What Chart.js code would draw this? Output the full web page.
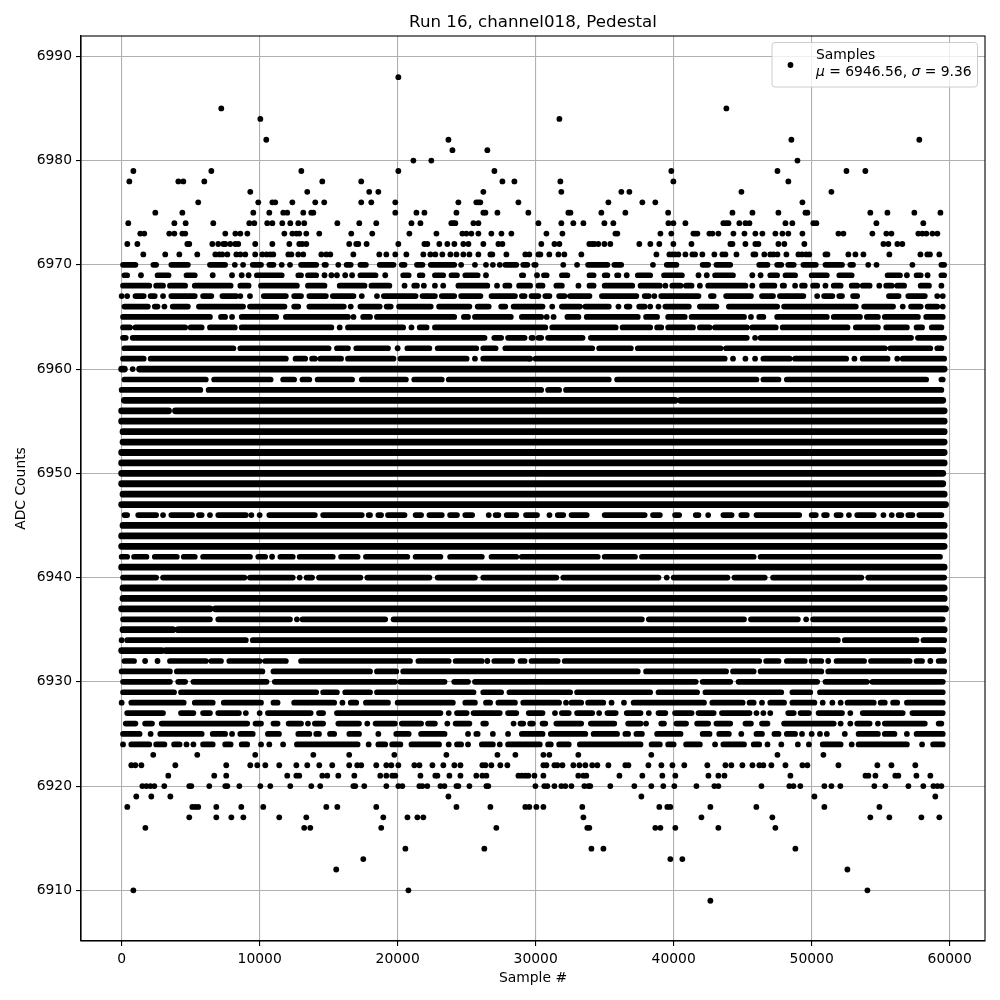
<!DOCTYPE html>
<html>
<head>
<meta charset="utf-8">
<title>Run 16, channel018, Pedestal</title>
<script src="https://cdn.jsdelivr.net/npm/chart.js@4"></script>
<style>
    html, body { margin: 0; padding: 0; background: #fff; }
    canvas { display: block; }
</style>
</head>
<body>
<canvas id="pedestalChart" width="1000" height="1000"></canvas>
<script>
// Sample numbers are in thousands
const chartTitle = 'Run 16, channel018, Pedestal';
const xTitle = 'Sample #';
const yTitle = 'ADC Counts';
const seriesName = 'Samples';
const meanValue = '6946.56';
const sigmaValue = '9.36';
const xTicks = [0, 10000, 20000, 30000, 40000, 50000, 60000];
const yTicks = [6910, 6920, 6930, 6940, 6950, 6960, 6970, 6980, 6990];

// Isolated samples above and below the main band
const tailLevels = [6988, 6985, 6984, 6982, 6981, 6980, 6979, 6978, 6977, 6976, 6975, 6974, 6973, 6972, 6971,
    6923, 6922, 6921, 6920, 6919, 6918, 6917, 6916, 6914, 6913, 6912, 6910, 6909];
const tailSamples = [
    [20.05],
    [7.22, 43.82],
    [10.05, 31.72],
    [10.48, 23.68, 48.53, 57.8],
    [23.97, 26.5],
    [21.14, 22.44, 48.97],
    [0.85, 6.5, 13.02, 20.05, 27.01, 39.83, 47.52, 52.52, 53.89],
    [0.56, 4.11, 4.47, 5.99, 14.54, 17.36, 27.59, 28.46, 31.79, 39.98, 48.31],
    [9.32, 13.45, 17.94, 18.6, 26.21, 31.86, 36.21, 36.79, 44.91, 51.43],
    [5.55, 9.9, 10.92, 11.13, 12.37, 14.03, 14.68, 17.36, 18.09, 19.83, 24.4, 25.7, 25.85, 25.99, 28.75, 35.27, 37.73, 38.67, 49.33],
    [2.44, 4.4, 9.54, 10.7, 11.71, 12.0, 13.16, 13.74, 13.89, 19.83, 21.36, 21.94, 24.26, 26.21, 26.36, 27.23, 29.47, 32.37, 32.52, 34.76, 36.5, 39.6, 44.26, 45.71, 47.59, 49.55, 49.69, 54.25, 55.49, 57.44, 59.33],
    [0.48, 3.82, 4.64, 6.64, 9.25, 9.61, 10.55, 10.92, 11.64, 12.22, 12.8, 13.23, 15.63, 17.22, 18.45, 21.0, 21.65, 23.89, 24.04, 24.18, 25.49, 25.85, 30.2, 31.86, 32.73, 33.46, 34.98, 35.63, 39.62, 39.98, 40.85, 43.6, 43.8, 43.97, 44.76, 45.2, 45.49, 48.1, 48.6, 50.12, 50.34, 54.69, 58.09],
    [1.35, 1.64, 3.45, 3.82, 4.4, 4.61, 7.51, 8.24, 8.6, 9.11, 11.79, 12.37, 12.66, 12.87, 13.38, 14.32, 16.64, 18.16, 20.85, 22.81, 24.69, 24.98, 25.34, 25.85, 26.79, 27.52, 28.24, 30.78, 31.94, 35.78, 35.92, 39.04, 39.83, 41.43, 41.57, 41.72, 42.59, 42.81, 43.24, 44.33, 45.13, 45.92, 46.43, 47.37, 47.88, 48.31, 49.33, 51.94, 52.3, 54.4, 55.41, 55.78, 57.73, 58.02, 58.31, 58.75, 59.11],
    [0.41, 1.14, 4.76, 4.9, 6.57, 7.0, 7.37, 7.51, 7.87, 8.24, 8.45, 9.68, 10.92, 12.15, 12.87, 13.09, 13.38, 16.49, 17.0, 17.15, 17.75, 20.05, 21.94, 22.15, 23.02, 23.6, 24.11, 24.76, 25.13, 26.21, 27.3, 27.59, 30.41, 31.36, 31.72, 33.89, 34.1, 34.25, 34.54, 34.98, 35.41, 37.51, 38.31, 38.96, 39.98, 41.29, 44.11, 44.26, 45.2, 45.92, 46.14, 47.59, 48.02, 49.47, 55.2, 55.56, 56.21, 56.57],
    [1.57, 3.16, 4.18, 5.48, 6.79, 7.08, 7.29, 7.66, 8.31, 8.6, 8.96, 9.68, 10.19, 10.5, 10.77, 10.99, 12.08, 12.3, 12.8, 13.16, 14.47, 14.83, 15.12, 16.79, 18.67, 19.18, 19.83, 20.63, 21.86, 22.37, 22.73, 23.24, 23.82, 24.26, 24.76, 25.2, 25.85, 26.72, 26.86, 27.88, 29.25, 29.54, 30.2, 30.34, 30.99, 31.65, 32.08, 33.31, 38.75, 39.69, 39.9, 40.1, 40.34, 40.85, 41.36, 41.55, 42.08, 42.95, 43.53, 43.75, 44.55, 45.78, 45.92, 46.57, 47.0, 47.23, 47.52, 48.17, 49.04, 49.3, 49.6, 49.83, 51.0, 51.14, 52.66, 53.17, 53.75, 55.63, 57.88, 58.38, 58.57, 59.25],
    [2.29, 5.48, 9.68, 13.89, 16.49, 19.76, 23.53, 27.23, 28.53, 30.56, 30.99, 33.09, 38.38, 47.52, 50.85],
    [0.7, 0.99, 1.43, 3.89, 7.58, 9.32, 9.83, 10.41, 11.42, 12.66, 13.45, 14.32, 15.26, 16.49, 17.07, 17.36, 18.45, 19.18, 19.54, 20.05, 21.21, 21.58, 22.52, 23.31, 24.11, 24.55, 26.14, 26.36, 26.79, 27.44, 27.95, 30.56, 30.78, 31.36, 31.57, 31.94, 32.73, 33.17, 33.6, 34.1, 34.47, 35.27, 36.5, 36.72, 38.17, 39.11, 39.91, 40.77, 42.44, 43.75, 44.18, 44.98, 45.71, 46.21, 46.5, 47.08, 48.1, 49.33, 49.69, 51.94, 54.76, 55.78, 57.51],
    [3.38, 6.71, 7.58, 12.0, 12.66, 12.87, 14.54, 14.9, 15.7, 16.86, 18.74, 19.18, 19.61, 19.83, 21.65, 22.73, 22.88, 23.75, 24.55, 25.7, 26.14, 26.43, 28.75, 29.0, 29.25, 29.47, 29.91, 30.56, 33.09, 33.46, 33.67, 36.07, 37.73, 39.18, 40.12, 42.52, 43.24, 43.68, 48.46, 53.9, 54.11, 54.62, 56.06, 56.28, 57.59, 58.6],
    [1.5, 1.79, 2.08, 2.37, 3.09, 4.9, 5.05, 6.35, 7.51, 7.66, 8.53, 10.05, 10.77, 12.22, 13.74, 14.39, 16.79, 16.93, 17.58, 19.18, 20.05, 20.34, 21.57, 21.79, 22.15, 23.1, 23.39, 24.26, 24.4, 25.2, 26.43, 26.57, 29.98, 30.63, 30.85, 31.36, 31.86, 32.15, 32.59, 33.53, 33.82, 33.96, 35.41, 37.15, 38.38, 39.25, 40.05, 41.65, 42.95, 43.24, 46.36, 48.38, 48.68, 49.18, 50.92, 51.43, 52.08, 54.54, 55.34, 57.01, 58.09, 58.82, 59.11, 59.4],
    [1.06, 2.15, 3.53, 23.68, 37.66, 50.2, 58.96],
    [0.41, 5.12, 5.34, 5.55, 6.86, 8.67, 10.26, 14.83, 15.63, 18.45, 24.26, 26.72, 29.25, 29.54, 30.05, 30.56, 33.38, 38.96, 39.54, 39.76, 42.66, 45.99, 50.92, 54.91],
    [4.9, 6.86, 7.95, 8.82, 11.42, 13.38, 18.96, 20.71, 21.43, 21.86, 33.46, 42.01, 47.15, 54.25, 55.63, 57.95, 59.25],
    [1.72, 13.23, 13.67, 18.81, 27.15, 33.74, 33.89, 38.67, 39.04, 40.12, 43.24, 47.37],
    [20.56, 26.28, 34.04, 34.91, 48.82],
    [17.51, 39.76, 40.63],
    [15.55, 52.59],
    [0.85, 20.78, 54.04],
    [42.66]
];

// Main band: a pair is an unbroken stretch of samples, a single number is one dot
const coreLevels = [6970, 6969, 6968, 6967, 6966, 6965, 6964, 6963, 6962, 6961, 6960, 6959, 6958, 6957, 6956, 6955,
    6954, 6953, 6952, 6951, 6950, 6949, 6948, 6947, 6946, 6945, 6944, 6943, 6942, 6941, 6940, 6939, 6938, 6937,
    6936, 6935, 6934, 6933, 6932, 6931, 6930, 6929, 6928, 6927, 6926, 6925, 6924];
const coreSamples = [
    [[0.1,1.0],[2.3,2.5],[3.6,4.8],[6.4,7.5],8.2,8.8,[9.5,10.1],[10.7,11.0],11.6,12.2,[13.0,14.1],[14.7,14.8],15.7,[16.3,16.6],[17.3,17.7],[18.7,19.7],[20.3,20.5],[21.4,21.8],[22.4,24.1],24.6,25.6,26.4,26.9,27.4,[27.8,28.6],[29.1,29.4],[29.9,30.0],32.0,33.0,[33.8,35.2],[35.7,36.2],38.5,[39.5,40.2],[42.1,42.5],[43.1,44.1],[46.2,46.8],[47.5,47.8],[48.3,48.7],[49.4,50.3],[51.0,52.2],[52.8,53.0],54.1,54.7,57.3,[59.4,59.6]],
    [[0.2,0.4],1.4,[2.6,3.4],[4.7,5.3],6.6,8.0,8.7,9.2,[9.8,11.6],[12.8,13.0],[13.5,14.1],14.7,15.2,15.6,16.2,16.7,[17.3,18.4],19.1,[20.4,20.8],[21.6,21.8],[22.7,23.3],[23.9,24.3],[24.9,25.8],26.4,[29.0,29.1],30.1,[30.6,30.8],[31.9,32.3],[33.9,34.2],[35.0,35.2],[35.9,36.0],36.6,[37.4,38.3],[39.3,40.6],41.8,42.4,[43.0,44.3],45.7,46.3,[47.0,47.5],[48.1,48.8],[50.0,51.1],[52.0,52.9],[55.5,56.4],56.9,[57.6,57.9],58.4,[59.4,59.6]],
    [[0.1,2.0],[2.5,3.0],[3.5,4.6],[5.3,7.9],[8.6,9.2],[10.1,12.7],[13.5,14.7],[15.8,17.6],[18.1,19.4],20.5,[21.2,21.4],21.9,22.7,23.3,[24.4,26.5],27.2,[27.8,28.1],[28.8,29.6],[30.2,30.5],[31.5,31.9],33.1,[33.9,34.2],[35.0,37.0],[37.6,39.0],39.4,[39.9,40.5],[40.9,41.3],41.9,[42.5,45.2],45.7,[46.4,47.3],[47.9,48.0],48.8,[49.3,49.5],[50.1,50.4],51.0,[51.6,52.1],[52.9,53.3],[53.7,54.2],54.9,[55.4,55.8],[56.2,56.7],[57.9,58.5],59.4],
    [0.0,0.4,[1.0,1.6],[2.1,2.4],3.0,[3.6,5.3],[5.9,6.5],[7.3,8.3],8.6,9.3,[10.3,11.9],[12.5,13.0],[13.6,14.8],[15.3,16.8],17.4,18.5,[19.0,21.3],[21.8,22.7],[23.2,24.1],[24.6,26.0],[26.8,28.5],[29.0,29.2],[29.7,30.2],[30.7,31.0],[31.7,32.1],[32.5,33.9],[34.8,37.3],[37.9,38.2],38.6,[39.1,41.8],[42.7,42.9],[43.8,45.6],[46.4,47.2],[47.7,49.4],50.4,[50.9,51.5],[52.0,52.2],[53.0,53.3],[55.6,56.3],[57.0,58.2],59.1,59.5],
    [[0.2,1.9],[2.4,2.6],3.1,[3.7,4.8],[5.6,8.8],[9.3,11.8],[12.5,12.8],[13.6,16.1],16.6,[17.3,18.7],[19.2,19.5],[20.1,22.4],[23.0,25.2],[25.8,26.6],[27.5,27.8],[28.4,30.5],31.2,[31.9,33.2],[33.6,35.3],36.0,[36.6,36.8],[37.5,37.9],38.3,38.9,[39.4,41.1],[41.9,43.1],[44.0,47.5],[48.0,53.2],[53.8,55.9],56.6,[57.2,57.9],[58.4,59.1],59.5],
    [[0.1,6.4],[7.2,7.5],8.0,[8.7,11.2],[11.9,16.4],16.8,[17.5,18.0],[18.5,24.1],[24.8,25.1],[25.6,28.2],[29.0,30.4],30.8,31.3,[32.3,33.1],[33.7,37.4],[38.0,38.8],[39.6,40.8],[41.3,45.1],45.6,[46.2,46.5],[47.5,51.1],[51.6,53.5],[54.0,54.8],[55.3,57.7],[58.3,59.5]],
    [[0.1,0.6],[1.0,4.6],[5.0,5.8],[6.4,8.2],[8.7,15.2],15.8,[16.4,20.4],21.0,[21.6,22.1],[22.7,30.7],[31.2,35.8],[36.3,38.3],[38.8,39.1],[39.6,41.4],[41.9,42.6],[43.0,45.3],[45.7,47.4],[47.9,52.6],[53.2,54.8],[55.4,56.9],[57.6,58.0],[58.7,59.4]],
    [[0.1,0.3],[0.8,26.3],[27.0,27.5],[28.0,29.2],29.7,29.8,[30.2,30.4],[30.9,33.4],[34.0,45.3],45.9,[46.3,57.2],[57.7,59.6]],
    [[0.2,8.1],[8.6,15.0],[15.6,16.4],[17.0,19.3],20.0,[20.7,22.3],[22.9,25.7],[26.2,27.1],[27.8,34.1],[34.6,36.9],[37.4,43.4],[43.8,55.3],[55.7,58.6],[59.1,59.4]],
    [[0.1,1.6],[2.1,11.9],[12.6,13.3],[13.8,14.0],[14.4,15.9],[16.4,19.7],[20.2,25.0],25.6,[26.2,29.5],29.6,[30.0,43.7],44.3,45.2,45.9,[46.5,48.4],[48.8,52.5],53.1,[53.7,55.5],56.2,[56.6,59.6]],
    [[0.0,0.2],0.8,[1.3,59.6]],
    [[0.2,6.1],[6.7,10.8],[11.7,12.5],[13.1,13.6],[14.2,16.7],[17.4,20.6],[21.2,23.2],[23.7,35.3],[35.9,46.0],[46.5,47.6],[48.2,58.3],[59.4,59.5]],
    [[0.0,5.7],[6.3,30.4],[30.9,31.7],[32.2,59.4]],
    [[0.2,40.1],[40.5,59.5]],
    [[0.0,3.4],[3.9,59.6]],
    [[0.0,59.6]],
    [[0.1,59.6]],
    [[0.1,59.6]],
    [[0.0,59.6]],
    [[0.0,59.6]],
    [[0.0,59.5]],
    [[0.0,59.5]],
    [[0.1,59.6]],
    [[0.0,59.7]],
    [[0.2,0.4],[1.2,2.5],3.0,[3.6,5.1],[5.6,5.8],6.4,[7.0,9.0],9.4,10.0,[10.7,14.0],[14.6,17.4],[17.9,18.0],[18.6,18.8],[19.3,20.5],[21.3,21.7],[22.3,23.2],[23.8,24.3],[24.9,25.4],26.6,[27.1,27.3],[27.9,28.6],[29.3,30.1],31.0,[31.6,32.0],[32.6,33.7],[35.0,37.9],[38.5,39.0],[40.1,40.4],[41.6,41.8],42.5,[43.6,44.2],[44.9,45.3],[46.0,49.1],[50.0,50.3],[50.9,51.1],[51.8,52.1],52.7,[53.3,54.5],55.2,55.8,[56.3,56.5],[57.0,57.3],[57.8,59.4]],
    [[0.1,59.6]],
    [[0.0,59.6]],
    [[0.0,59.6]],
    [[0.0,0.4],[0.9,1.8],[2.4,4.0],[4.5,5.3],[5.9,9.3],[9.9,10.4],10.9,[11.5,12.4],[12.9,15.3],[15.9,17.1],[17.7,20.7],[21.3,23.1],[23.8,26.1],[26.8,28.6],[29.0,34.5],[35.0,37.2],[37.7,45.8],[46.3,59.3]],
    [[0.0,59.6]],
    [[0.1,2.5],[3.0,8.9],[9.3,12.4],12.9,[13.4,13.8],[14.3,17.3],[17.8,22.3],[22.9,25.6],[26.2,31.5],[32.0,38.9],39.5,[40.0,43.9],[44.4,46.6],[47.2,53.6],[54.1,59.6]],
    [[0.1,59.6]],
    [[0.1,59.6]],
    [[0.0,6.4],[6.8,59.7]],
    [[0.1,6.4],[7.0,12.2],12.7,[13.1,19.1],[19.7,37.7],[38.2,45.1],[45.6,49.0],49.6,[50.1,59.5]],
    [[0.1,3.7],[4.1,59.6]],
    [0.0,[0.4,9.0],[9.5,51.9],[52.4,57.6],[58.1,59.6]],
    [[0.0,2.9],[3.2,59.5]],
    [[0.2,0.9],1.7,2.6,[3.5,6.1],[6.5,7.2],[7.8,10.0],[10.4,11.9],[13.0,20.9],[21.5,23.7],[24.2,26.1],26.5,[27.0,28.3],[28.9,29.2],[29.7,31.6],[32.1,46.2],[46.7,47.6],[48.2,49.5],[50.0,50.7],51.2,[51.8,53.8],[54.3,57.1],[57.6,58.0],58.6,[59.2,59.6]],
    [[0.0,3.5],[4.0,10.2],[11.0,18.0],[18.5,19.9],[20.4,37.4],[38.0,43.8],[44.3,45.8],[46.3,50.7],[51.2,59.6]],
    [[0.1,3.5],[4.1,4.6],[5.2,10.5],[11.1,19.8],[20.2,23.4],[24.1,25.1],[25.6,41.6],[42.1,44.1],[44.7,50.4],[51.0,54.0],[54.4,59.5]],
    [[0.1,3.8],[4.3,14.1],[14.6,15.6],[16.2,18.0],[18.5,25.5],[26.2,27.5],[28.1,32.5],[33.0,38.3],[38.9,41.7],[42.3,47.8],[48.6,49.9],[50.6,59.5]],
    [0.0,[0.7,4.5],[5.3,6.6],[7.4,10.1],[11.0,11.3],[12.5,15.4],16.0,[16.6,17.0],[17.7,19.3],[20.0,24.0],[24.9,25.6],[26.4,26.7],[27.3,28.5],[29.1,31.7],32.2,[32.6,33.3],[33.8,34.9],35.5,36.4,[37.1,42.2],[42.8,45.0],[45.5,45.8],46.4,[47.0,48.0],[48.6,50.2],50.8,51.5,52.1,[52.6,54.5],[55.0,55.3],[55.9,56.2],[56.9,59.5]],
    [[0.4,3.0],[4.3,5.2],[5.9,6.4],[7.0,8.5],9.0,10.0,[10.6,13.7],[14.3,14.6],[15.6,23.1],23.7,[24.3,25.0],[25.5,27.4],[28.0,28.6],[29.5,30.5],31.4,[31.9,32.4],[33.0,34.1],34.6,[35.2,35.8],[36.6,37.6],38.2,[38.9,39.4],[40.1,41.3],[41.8,42.9],[43.5,45.5],46.0,46.5,47.0,[48.3,48.7],[49.2,49.8],[50.5,52.2],52.8,[53.7,56.6],[57.3,59.5]],
    [[0.3,1.0],[1.7,2.2],[2.9,9.1],[9.7,10.1],[11.0,11.3],[12.1,13.0],13.5,[14.0,14.6],[15.7,17.2],17.8,[18.4,19.8],[20.3,21.7],[22.2,22.7],23.6,[24.2,25.2],[26.2,26.4],28.4,[28.9,29.1],[29.6,29.8],[30.5,30.7],[31.5,33.3],[34.0,35.7],[36.7,37.6],38.0,[39.1,39.3],[40.2,40.9],[41.7,42.5],[43.1,44.1],[45.2,45.6],[46.4,46.8],[48.0,51.6],52.1,52.8,[53.3,54.2],54.8,[55.3,58.2],[59.2,59.4]],
    [[0.1,1.3],2.1,[2.8,5.8],[6.6,7.5],8.0,[8.6,9.5],[10.6,11.4],[12.8,13.6],[14.1,14.3],[15.1,15.4],[16.5,17.2],18.6,[19.9,20.8],[21.7,23.4],25.1,[25.7,25.8],26.9,28.0,[29.0,30.5],[31.1,33.6],[34.2,35.9],[36.5,36.7],[37.3,37.7],[38.8,40.5],[42.1,42.6],[43.3,44.0],44.9,[46.0,46.4],[47.3,47.6],[48.2,48.8],49.3,50.0,50.6,51.1,52.4,[53.4,54.8],[55.3,56.0],56.9,[57.6,59.5]],
    [0.1,[0.7,2.0],[2.5,3.1],[3.8,4.2],4.7,5.2,[5.9,6.6],[7.5,7.9],[8.7,9.1],10.1,10.7,11.7,[12.7,17.1],17.9,[18.6,19.1],[19.6,20.2],[21.0,23.0],23.7,[24.3,24.6],25.1,[26.1,26.9],27.4,[28.0,30.3],[30.9,31.1],[31.7,32.4],[33.2,37.6],[38.4,39.0],[39.6,40.0],[40.9,41.9],43.0,[43.6,45.1],[45.8,46.2],46.8,47.8,49.0,49.8,[50.8,52.1],52.9,[53.4,56.9],58.0,[58.8,59.5]]
];

// Single dots, no line between them
function buildDots() {
    const points = [];
    tailLevels.forEach((level, i) => {
        tailSamples[i].forEach(k => points.push({ x: k * 1000, y: level }));
    });
    coreLevels.forEach((level, i) => {
        coreSamples[i].filter(item => !Array.isArray(item))
            .forEach(k => points.push({ x: k * 1000, y: level }));
    });
    return points;
}

// Stretches of samples, a null point breaks the line between them.
// Nearly unbroken rows are drawn a bit thicker, the overlapping dots build up there
function buildStretches(solidRows) {
    const points = [];
    coreLevels.forEach((level, i) => {
        if ((coreSamples[i].length <= 3) !== solidRows) return;
        coreSamples[i].filter(item => Array.isArray(item)).forEach(([from, to]) => {
            points.push({ x: from * 1000, y: level }, { x: to * 1000, y: level }, { x: null, y: null });
        });
    });
    return points;
}

const fontFamily = '"DejaVu Sans", sans-serif';

// Axes frame on all four sides and the legend box with the italic symbols
const framePlugin = {
    id: 'frame',
    afterDatasetsDraw(chart) {
        const { ctx, chartArea: a } = chart;
        ctx.save();

        ctx.strokeStyle = '#000';
        ctx.lineWidth = 1.1;
        ctx.strokeRect(a.left, a.top, a.right - a.left, a.bottom - a.top);

        ctx.beginPath();
        ctx.roundRect(772, 42.5, 205.5, 44.5, 3);
        ctx.fillStyle = 'rgba(255,255,255,0.8)';
        ctx.fill();
        ctx.strokeStyle = '#cccccc';
        ctx.lineWidth = 1;
        ctx.stroke();

        ctx.beginPath();
        ctx.arc(790.5, 65, 2.9, 0, Math.PI * 2);
        ctx.fillStyle = '#000';
        ctx.fill();

        ctx.textBaseline = 'alphabetic';
        ctx.textAlign = 'left';
        const plain = '13.89px ' + fontFamily;
        const oblique = 'oblique 13.89px ' + fontFamily;
        ctx.font = plain;
        ctx.fillText(seriesName, 816, 59);

        const parts = [
            ['\u03bc', oblique], [' = ' + meanValue + ', ', plain],
            ['\u03c3', oblique], [' = ' + sigmaValue, plain]
        ];
        let x = 816;
        parts.forEach(([text, font]) => {
            ctx.font = font;
            ctx.fillText(text, x, 75.5);
            x += ctx.measureText(text).width;
        });
        ctx.restore();
    }
};

const commonGrid = { color: '#b0b0b0', lineWidth: 1.1, tickColor: '#000', tickLength: 5, tickWidth: 1.1 };
const commonBorder = { color: '#000', width: 1.1 };
const tickFont = { family: fontFamily, size: 13.89 };

const stretchStyle = {
    showLine: true,
    spanGaps: false,
    borderColor: '#000',
    borderCapStyle: 'round',
    pointRadius: 0
};

new Chart(document.getElementById('pedestalChart'), {
    type: 'scatter',
    data: {
        datasets: [
            {
                label: seriesName,
                data: buildDots(),
                showLine: false,
                pointRadius: 2.9,
                pointBorderWidth: 0,
                pointBackgroundColor: '#000'
            },
            { ...stretchStyle, label: seriesName, data: buildStretches(false), borderWidth: 5.7 },
            { ...stretchStyle, label: seriesName, data: buildStretches(true), borderWidth: 6.8 }
        ]
    },
    options: {
        responsive: false,
        animation: false,
        layout: { padding: { left: 0, right: 15, top: 0, bottom: 0 } },
        plugins: {
            legend: { display: false },
            tooltip: { enabled: false },
            title: {
                display: true,
                text: chartTitle,
                color: '#000',
                fullSize: false,
                font: { family: fontFamily, size: 16.67, weight: 'normal', lineHeight: 1.2 },
                padding: { top: 13, bottom: 3 }
            }
        },
        scales: {
            x: {
                type: 'linear',
                min: -2945,
                max: 62560,
                grid: commonGrid,
                border: commonBorder,
                afterBuildTicks(scale) { scale.ticks = xTicks.map(v => ({ value: v })); },
                ticks: {
                    autoSkip: false,
                    color: '#000',
                    font: tickFont,
                    maxRotation: 0,
                    padding: 5,
                    callback: v => String(v)
                },
                title: { display: true, text: xTitle, color: '#000', font: tickFont, padding: { top: 4, bottom: 13 } },
                afterFit(scale) { scale.height = 59; }
            },
            y: {
                type: 'linear',
                min: 6905.14,
                max: 6991.95,
                grid: commonGrid,
                border: commonBorder,
                afterBuildTicks(scale) { scale.ticks = yTicks.map(v => ({ value: v })); },
                ticks: {
                    autoSkip: false,
                    color: '#000',
                    font: tickFont,
                    padding: 4,
                    callback: v => String(v)
                },
                title: { display: true, text: yTitle, color: '#000', font: tickFont, padding: { top: 13, bottom: 4 } },
                afterFit(scale) { scale.width = 81; }
            }
        }
    },
    plugins: [framePlugin]
});
</script>
</body>
</html>
